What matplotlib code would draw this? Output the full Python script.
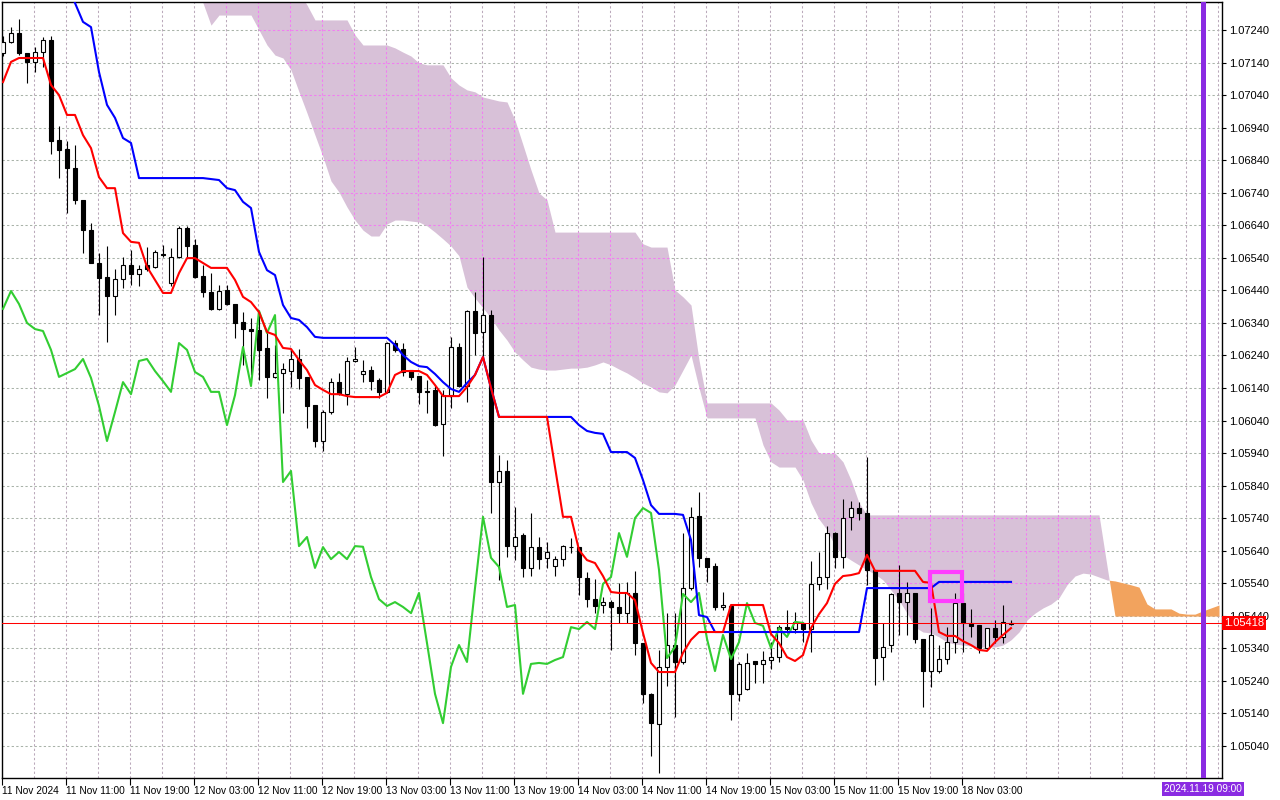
import numpy as np
import matplotlib.pyplot as plt
from matplotlib.patches import Rectangle
from matplotlib.path import Path
from matplotlib.transforms import blended_transform_factory

plt.rcParams['font.family'] = ['Liberation Sans', 'DejaVu Sans']

# EURUSD H1, bar 0 = 11 Nov 03:00 ... bar 126 = 18 Nov 09:00
opens = [1.07169, 1.07203, 1.07231, 1.07169, 1.07142, 1.07172, 1.07209, 1.06902, 1.06874, 1.06816,
         1.06718, 1.06625, 1.06524, 1.06481, 1.06423, 1.06475, 1.06518, 1.06490, 1.06518, 1.06512,
         1.06552, 1.06463, 1.06542, 1.06632, 1.06579, 1.06484, 1.06435, 1.06383, 1.06441, 1.06398,
         1.06343, 1.06321, 1.06318, 1.06263, 1.06174, 1.06186, 1.06192, 1.06229, 1.06174, 1.06088,
         1.05977, 1.06066, 1.06158, 1.06121, 1.06223, 1.06183, 1.06195, 1.06165, 1.06128, 1.06278,
         1.06260, 1.06195, 1.06177, 1.06131, 1.06134, 1.06029, 1.06118, 1.06266, 1.06146, 1.06377,
         1.06312, 1.06364, 1.05851, 1.05885, 1.05654, 1.05688, 1.05587, 1.05651, 1.05618, 1.05593,
         1.05614, 1.05651, 1.05651, 1.05556, 1.05491, 1.05473, 1.05482, 1.05467, 1.05448, 1.05510,
         1.05356, 1.05200, 1.05107, 1.05283, 1.05350, 1.05298, 1.05525, 1.05747, 1.05618, 1.05593,
         1.05467, 1.05470, 1.05200, 1.05215, 1.05301, 1.05292, 1.05304, 1.05313, 1.05405, 1.05399,
         1.05418, 1.05399, 1.05538, 1.05559, 1.05694, 1.05621, 1.05744, 1.05771, 1.05756, 1.05581,
         1.05313, 1.05350, 1.05510, 1.05482, 1.05510, 1.05369, 1.05270, 1.05270, 1.05307, 1.05359,
         1.05479, 1.05418, 1.05412, 1.05341, 1.05402, 1.05375, 1.05415]
highs = [1.07222, 1.07249, 1.07274, 1.07169, 1.07188, 1.07219, 1.07222, 1.06945, 1.06899, 1.06887,
         1.06718, 1.06647, 1.06555, 1.06576, 1.06506, 1.06542, 1.06564, 1.06518, 1.06573, 1.06564,
         1.06579, 1.06570, 1.06638, 1.06638, 1.06598, 1.06518, 1.06493, 1.06456, 1.06456, 1.06398,
         1.06373, 1.06355, 1.06373, 1.06318, 1.06272, 1.06217, 1.06257, 1.06260, 1.06174, 1.06088,
         1.06072, 1.06171, 1.06186, 1.06235, 1.06266, 1.06226, 1.06207, 1.06171, 1.06281, 1.06287,
         1.06278, 1.06195, 1.06177, 1.06165, 1.06149, 1.06134, 1.06297, 1.06278, 1.06380, 1.06435,
         1.06542, 1.06380, 1.05934, 1.05919, 1.05774, 1.05694, 1.05756, 1.05682, 1.05667, 1.05624,
         1.05657, 1.05679, 1.05651, 1.05574, 1.05553, 1.05498, 1.05488, 1.05541, 1.05544, 1.05578,
         1.05356, 1.05203, 1.05335, 1.05448, 1.05448, 1.05694, 1.05774, 1.05820, 1.05618, 1.05602,
         1.05513, 1.05470, 1.05298, 1.05326, 1.05301, 1.05332, 1.05359, 1.05412, 1.05458, 1.05452,
         1.05421, 1.05608, 1.05636, 1.05716, 1.05697, 1.05799, 1.05793, 1.05790, 1.05928, 1.05581,
         1.05418, 1.05510, 1.05596, 1.05544, 1.05510, 1.05369, 1.05464, 1.05350, 1.05405, 1.05510,
         1.05510, 1.05461, 1.05412, 1.05402, 1.05427, 1.05473, 1.05427]
lows = [1.07160, 1.07200, 1.07163, 1.07077, 1.07111, 1.07126, 1.06859, 1.06785, 1.06678, 1.06705,
        1.06555, 1.06524, 1.06364, 1.06281, 1.06364, 1.06447, 1.06456, 1.06453, 1.06499, 1.06509,
        1.06542, 1.06453, 1.06539, 1.06539, 1.06478, 1.06420, 1.06380, 1.06380, 1.06395, 1.06294,
        1.06211, 1.06180, 1.06165, 1.06109, 1.06171, 1.06063, 1.06143, 1.06137, 1.06017, 1.05959,
        1.05946, 1.06060, 1.06118, 1.06088, 1.06220, 1.06158, 1.06134, 1.06109, 1.06125, 1.06250,
        1.06177, 1.06165, 1.06091, 1.06063, 1.06023, 1.05931, 1.06078, 1.06143, 1.06097, 1.06241,
        1.06232, 1.05756, 1.05550, 1.05621, 1.05611, 1.05559, 1.05562, 1.05584, 1.05587, 1.05562,
        1.05593, 1.05633, 1.05504, 1.05467, 1.05448, 1.05448, 1.05335, 1.05418, 1.05418, 1.05319,
        1.05172, 1.05009, 1.04957, 1.05224, 1.05129, 1.05292, 1.05519, 1.05590, 1.05544, 1.05458,
        1.05458, 1.05120, 1.05178, 1.05212, 1.05233, 1.05233, 1.05276, 1.05298, 1.05387, 1.05387,
        1.05359, 1.05329, 1.05519, 1.05522, 1.05587, 1.05587, 1.05704, 1.05734, 1.05535, 1.05227,
        1.05243, 1.05329, 1.05381, 1.05381, 1.05356, 1.05160, 1.05221, 1.05264, 1.05292, 1.05326,
        1.05329, 1.05375, 1.05326, 1.05335, 1.05356, 1.05356, 1.05412]
closes = [1.07203, 1.07231, 1.07169, 1.07142, 1.07172, 1.07209, 1.06899, 1.06871, 1.06816, 1.06718,
          1.06625, 1.06524, 1.06478, 1.06423, 1.06475, 1.06518, 1.06490, 1.06506, 1.06506, 1.06558,
          1.06549, 1.06542, 1.06632, 1.06576, 1.06481, 1.06435, 1.06383, 1.06438, 1.06398, 1.06340,
          1.06321, 1.06315, 1.06257, 1.06174, 1.06186, 1.06198, 1.06229, 1.06171, 1.06085, 1.05977,
          1.06066, 1.06158, 1.06121, 1.06223, 1.06229, 1.06192, 1.06161, 1.06128, 1.06278, 1.06257,
          1.06189, 1.06174, 1.06128, 1.06128, 1.06026, 1.06118, 1.06266, 1.06146, 1.06377, 1.06309,
          1.06364, 1.05851, 1.05885, 1.05654, 1.05682, 1.05587, 1.05651, 1.05614, 1.05636, 1.05614,
          1.05654, 1.05652, 1.05559, 1.05491, 1.05470, 1.05482, 1.05467, 1.05448, 1.05510, 1.05356,
          1.05200, 1.05110, 1.05283, 1.05350, 1.05298, 1.05525, 1.05744, 1.05618, 1.05590, 1.05467,
          1.05473, 1.05200, 1.05292, 1.05295, 1.05292, 1.05304, 1.05313, 1.05405, 1.05399, 1.05421,
          1.05399, 1.05538, 1.05559, 1.05694, 1.05621, 1.05740, 1.05771, 1.05756, 1.05581, 1.05310,
          1.05344, 1.05507, 1.05482, 1.05510, 1.05369, 1.05270, 1.05381, 1.05307, 1.05359, 1.05479,
          1.05418, 1.05409, 1.05341, 1.05402, 1.05375, 1.05421, 1.05418]

# Ichimoku lines, same bars
tenkan = [1.07080, 1.07142, 1.07154, 1.07154, 1.07154, 1.07154, 1.07071, 1.07040, 1.06979, 1.06979,
          1.06917, 1.06877, 1.06788, 1.06754, 1.06754, 1.06616, 1.06589, 1.06586, 1.06512, 1.06472,
          1.06432, 1.06432, 1.06493, 1.06539, 1.06539, 1.06524, 1.06509, 1.06509, 1.06509, 1.06472,
          1.06420, 1.06404, 1.06373, 1.06312, 1.06303, 1.06263, 1.06260, 1.06226, 1.06195, 1.06149,
          1.06134, 1.06121, 1.06121, 1.06115, 1.06112, 1.06112, 1.06112, 1.06112, 1.06125, 1.06180,
          1.06192, 1.06192, 1.06192, 1.06180, 1.06149, 1.06115, 1.06115, 1.06115, 1.06143, 1.06180,
          1.06235, 1.06140, 1.06051, 1.06051, 1.06051, 1.06051, 1.06051, 1.06051, 1.06051, 1.05897,
          1.05744, 1.05744, 1.05642, 1.05611, 1.05602, 1.05562, 1.05513, 1.05510, 1.05510, 1.05488,
          1.05387, 1.05295, 1.05267, 1.05267, 1.05267, 1.05326, 1.05366, 1.05390, 1.05390, 1.05390,
          1.05390, 1.05473, 1.05473, 1.05473, 1.05473, 1.05473, 1.05384, 1.05356, 1.05313, 1.05301,
          1.05319, 1.05402, 1.05445, 1.05479, 1.05538, 1.05562, 1.05565, 1.05571, 1.05627, 1.05578,
          1.05578, 1.05578, 1.05578, 1.05578, 1.05578, 1.05544, 1.05541, 1.05390, 1.05378, 1.05378,
          1.05362, 1.05350, 1.05335, 1.05332, 1.05359, 1.05381, 1.05402]
kijun = ([np.nan] * 8 +
         [1.07394, 1.07323, 1.07265, 1.07249, 1.07111, 1.07010, 1.06970, 1.06908, 1.06893, 1.06785] +
         [1.06785] * 8 +
         [1.06782, 1.06779, 1.06754, 1.06748, 1.06712, 1.06693, 1.06558, 1.06502, 1.06487, 1.06395] +
         [1.06355, 1.06349, 1.06327, 1.06297] + [1.06294] * 9 +
         [1.06272, 1.06241, 1.06220, 1.06207, 1.06204, 1.06183, 1.06158, 1.06137, 1.06128, 1.06155,
          1.06180, 1.06235, 1.06140] +
         [1.06051] * 10 +
         [1.06026, 1.06008, 1.06002, 1.05999, 1.05943, 1.05943, 1.05943, 1.05925, 1.05857, 1.05780,
          1.05753, 1.05753, 1.05753, 1.05750, 1.05673, 1.05442, 1.05436] +
         [1.05390] * 19 + [1.05525] * 9 + [1.05544] * 10)

# Senkou spans, already shifted 26 bars ahead: bars 24 ... 152
cloud_start = 24
span_a = ([1.07409, 1.07323, 1.07255] + [1.07286] * 5 +
          [1.07240, 1.07194, 1.07163, 1.07154, 1.07117, 1.07050, 1.06985, 1.06917, 1.06850, 1.06776,
           1.06742, 1.06696, 1.06656, 1.06625, 1.06607, 1.06607, 1.06644, 1.06656, 1.06656, 1.06653,
           1.06650, 1.06638, 1.06619, 1.06598, 1.06576, 1.06546, 1.06450, 1.06416, 1.06386, 1.06355,
           1.06318, 1.06287, 1.06250, 1.06226, 1.06204, 1.06198, 1.06195, 1.06195, 1.06198, 1.06201,
           1.06201, 1.06204, 1.06211, 1.06220, 1.06211, 1.06198, 1.06186, 1.06171, 1.06155, 1.06143,
           1.06128, 1.06125, 1.06149, 1.06195, 1.06241, 1.06140] +
          [1.06048] * 7 +
          [1.05965, 1.05913, 1.05897, 1.05897, 1.05897, 1.05857, 1.05787, 1.05737, 1.05704, 1.05654,
           1.05627, 1.05611, 1.05596, 1.05581, 1.05568, 1.05550, 1.05519, 1.05488, 1.05448, 1.05405,
           1.05390, 1.05387, 1.05375, 1.05359, 1.05353, 1.05350, 1.05347, 1.05344, 1.05344, 1.05344,
           1.05350, 1.05366, 1.05390, 1.05427, 1.05448, 1.05464, 1.05476, 1.05495, 1.05535, 1.05562,
           1.05571, 1.05568, 1.05559, 1.05550, 1.05547, 1.05541, 1.05535, 1.05528, 1.05476, 1.05461,
           1.05461, 1.05461, 1.05448, 1.05445, 1.05445, 1.05455, 1.05464, 1.05473])
span_b = ([1.07516] * 12 + [1.07394, 1.07357, 1.07317] + [1.07271] * 5 + [1.07225] +
          [1.07194] * 4 + [1.07185, 1.07172, 1.07160, 1.07139] + [1.07133] * 3 +
          [1.07093, 1.07071, 1.07056, 1.07050, 1.07034, 1.07028, 1.07022, 1.07019, 1.06963, 1.06887,
           1.06810, 1.06739, 1.06718] +
          [1.06619] * 11 + [1.06583] + [1.06573] * 3 + [1.06441, 1.06420, 1.06395, 1.06226] +
          [1.06094] * 9 + [1.06072] + [1.06042] * 3 + [1.05980] + [1.05940] * 3 +
          [1.05913, 1.05857, 1.05787] + [1.05750] * 30 + [1.05593] + [1.05439] * 14)

price_ticks = np.round(np.arange(1.05040, 1.07241, 0.001), 5)
date_labels = ['11 Nov 2024', '11 Nov 11:00', '11 Nov 19:00', '12 Nov 03:00', '12 Nov 11:00',
               '12 Nov 19:00', '13 Nov 03:00', '13 Nov 11:00', '13 Nov 19:00', '14 Nov 03:00',
               '14 Nov 11:00', '14 Nov 19:00', '15 Nov 03:00', '15 Nov 11:00', '15 Nov 19:00',
               '18 Nov 03:00']
marker_bar = 150
marker_label = '2024.11.19 09:00'
box_bars = (115.9, 119.9)
box_prices = (1.05485, 1.05574)

o = np.array(opens)
h = np.array(highs)
l = np.array(lows)
c = np.array(closes)
idx = np.arange(len(c))
cloud_x = np.arange(cloud_start, cloud_start + len(span_a))
sa = np.array(span_a)
sb = np.array(span_b)

fig = plt.figure(figsize=(12.8, 8), dpi=100)
ax = fig.add_axes([2 / 1280, 22 / 800, 1220 / 1280, 776 / 800])
ax.set_xlim(-0.125, 152.375)
ax.set_ylim(1.049414, 1.073261)

grid_kw = dict(lw=0.75, dashes=(2.2, 2.2), zorder=0.5)
vgrid = np.arange(4, 153, 4) - 0.125
for p in price_ticks:
    ax.axhline(p, color='#a9b3a9', **grid_kw)
for gx in vgrid:
    ax.axvline(gx, color='#bba9bb', **grid_kw)

# cloud
bear = ax.fill_between(cloud_x, sa, sb, where=sb >= sa, interpolate=True,
                       color='#d8c1d8', lw=0, zorder=1)
ax.fill_between(cloud_x, sa, sb, where=sa > sb, interpolate=True,
                color='#f2a35e', lw=0, zorder=1)

# grid shows through the cloud in magenta
cloud_path = Path.make_compound_path(*bear.get_paths())
inner_kw = dict(color='#f27cf2', lw=0.75, dashes=(2.2, 2.2), zorder=1.5)
for p in price_ticks:
    ln = ax.axhline(p, **inner_kw)
    ln.set_clip_path(cloud_path, ax.transData)
for gx in vgrid:
    ln = ax.axvline(gx, **inner_kw)
    ln.set_clip_path(cloud_path, ax.transData)

# candles
up = c >= o
ax.vlines(idx, l, h, color='black', lw=0.8, zorder=3)
ax.bar(idx[up], (c - o)[up], bottom=o[up], width=0.62, color='white',
       edgecolor='black', lw=0.8, zorder=4)
ax.bar(idx[~up], (o - c)[~up], bottom=c[~up], width=0.62, color='black',
       edgecolor='black', lw=0.8, zorder=4)

# ichimoku lines
ax.plot(idx[:-26], c[26:], color='#32cd32', lw=1.5, zorder=5)
ax.plot(idx, kijun, color='#0000ff', lw=1.5, zorder=5)
ax.plot(idx, tenkan, color='#ff0000', lw=1.5, zorder=6)

# current price
ax.axhline(c[-1], color='#ff0000', lw=0.75, zorder=6)
tr = blended_transform_factory(ax.transAxes, ax.transData)
ax.text(1.0018, c[-1], f'{c[-1]:.5f}', transform=tr, ha='left', va='center',
        fontsize=8, color='white', clip_on=False, zorder=10,
        bbox=dict(boxstyle='square,pad=0.18', fc='#ff0000', ec='none'))

# time marker
ax.axvline(marker_bar, color='#8a2be2', lw=3.6, zorder=7)
trx = blended_transform_factory(ax.transData, ax.transAxes)
ax.text(marker_bar, -0.0145, marker_label, transform=trx, ha='center', va='center',
        fontsize=7.3, color='white', clip_on=False, zorder=8,
        bbox=dict(boxstyle='square,pad=0.2', fc='#8a2be2', ec='none'))

ax.add_patch(Rectangle((box_bars[0], box_prices[0]), box_bars[1] - box_bars[0],
                       box_prices[1] - box_prices[0], fill=False,
                       edgecolor='#ff3cff', lw=3.0, zorder=8))

# axes
for s in ax.spines.values():
    s.set_color('black')
    s.set_linewidth(1.0)
ax.yaxis.tick_right()
ax.set_yticks(price_ticks)
ax.set_yticklabels([f'{p:.5f}' for p in price_ticks])
ax.tick_params(axis='y', direction='out', length=3, width=0.8, labelsize=8, pad=2)
ax.set_xticks(np.arange(0, 8 * len(date_labels), 8) - 0.125)
ax.set_xticklabels(date_labels)
ax.tick_params(axis='x', direction='out', length=5, width=0.8, labelsize=7.3, pad=1)
for lbl in ax.get_xticklabels():
    lbl.set_horizontalalignment('left')

fig.savefig('out.png', dpi=100, facecolor='white')
